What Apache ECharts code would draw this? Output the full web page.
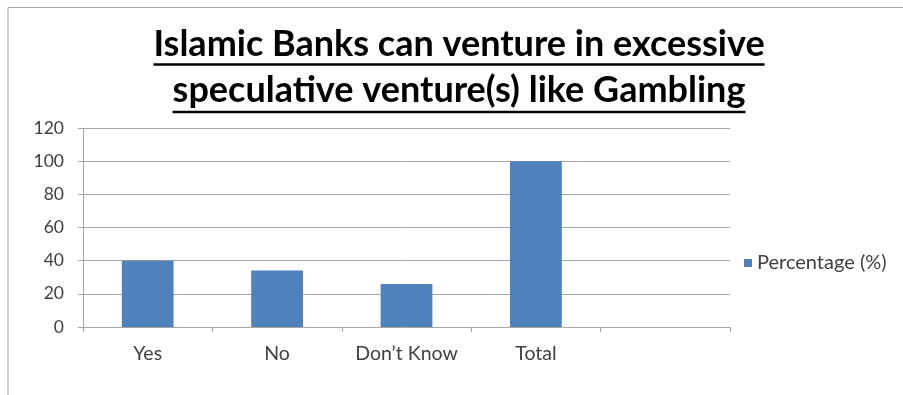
<!DOCTYPE html>
<html>
<head>
<meta charset="utf-8">
<script src="https://cdn.jsdelivr.net/npm/echarts@6/dist/echarts.min.js"></script>
<style>
  html, body { margin: 0; padding: 0; background: #fff; }
  #chart { width: 903px; height: 395px; }
</style>
</head>
<body>
<div id="chart"></div>
<script>
// Survey responses: Islamic banks and speculative ventures
const titleLines = [
  'Islamic Banks can venture in excessive',
  'speculative venture(s) like Gambling'
];
const categories = ['Yes', 'No', 'Don\u2019t Know', 'Total', ''];
const seriesName = 'Percentage (%)';
const percentages = [40, 34, 26, 100, null];
const yTicks = { min: 0, max: 120, interval: 20 };

const FONT = 'Lato, "Open Sans", sans-serif';
const titleSize = 36;
const titleFont = 'bold ' + titleSize + 'px ' + FONT;

// measure each title line so the underline spans the text exactly
function textWidth(str, font) {
  const c = document.createElement('canvas').getContext('2d');
  c.font = font;
  return c.measureText(str).width;
}

const cx = 459;
const lineY = [44, 90];
const underlineY = [64.5, 112];

const graphics = [];
// page frame
graphics.push({
  type: 'polyline',
  shape: { points: [[8, 395], [8, 7.5], [903, 7.5]] },
  style: { stroke: '#a6a6a6', lineWidth: 1, fill: null },
  silent: true
});
titleLines.forEach((t, i) => {
  graphics.push({
    type: 'text',
    x: cx, y: lineY[i],
    style: {
      text: t, font: titleFont, fill: '#000',
      align: 'center', verticalAlign: 'middle'
    }
  });
  const w = textWidth(t, titleFont);
  graphics.push({
    type: 'line',
    shape: { x1: cx - w / 2, y1: underlineY[i], x2: cx + w / 2, y2: underlineY[i] },
    style: { stroke: '#000', lineWidth: 2.5 }
  });
});

const chart = echarts.init(document.getElementById('chart'), null, { renderer: 'canvas' });
chart.setOption({
  animation: false,
  textStyle: { fontFamily: FONT },
  grid: { left: 83, right: 173, top: 128, bottom: 68, containLabel: false },
  legend: {
    data: [seriesName],
    left: 739, top: 248,
    icon: 'rect', itemWidth: 8, itemHeight: 8, itemGap: 6,
    textStyle: { fontSize: 20, color: '#404040', fontFamily: FONT }
  },
  xAxis: {
    type: 'category',
    data: categories,
    axisLine: { lineStyle: { color: '#a6a6a6' } },
    axisTick: { show: true, length: 5, alignWithLabel: false, lineStyle: { color: '#a6a6a6' } },
    axisLabel: { fontSize: 19.5, color: '#404040', margin: 17, interval: 0 }
  },
  yAxis: {
    type: 'value',
    min: yTicks.min, max: yTicks.max, interval: yTicks.interval,
    axisLine: { show: true, lineStyle: { color: '#a6a6a6' } },
    axisTick: { show: true, length: 5, lineStyle: { color: '#a6a6a6' } },
    axisLabel: { fontSize: 17.5, color: '#404040', margin: 19 },
    splitLine: { lineStyle: { color: '#a6a6a6' } }
  },
  series: [{
    name: seriesName,
    type: 'bar',
    data: percentages,
    barWidth: '40%',
    itemStyle: { color: '#4f81bd' }
  }],
  graphic: graphics
});
</script>
</body>
</html>
